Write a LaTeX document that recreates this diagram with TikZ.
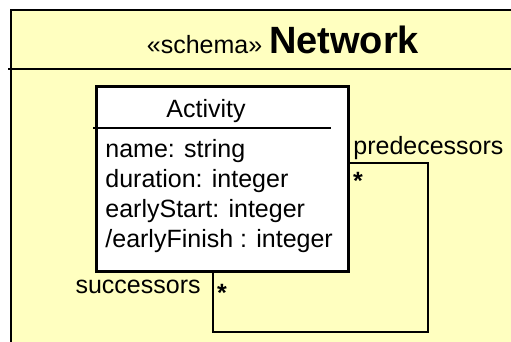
\documentclass[tikz,border=0pt]{standalone}
\usepackage{fontspec}
\setmainfont{Liberation Sans}
\usetikzlibrary{positioning}
\definecolor{Crema}{HTML}{FFFFC0}

\begin{document}
\begin{tikzpicture}[x=1pt,y=-1pt,line width=2.8pt,
  every node/.style={inner sep=0pt,font=\fontsize{25}{30}\selectfont},
  attr/.style={anchor=base west},
  mult/.style={anchor=base,font=\fontsize{25}{30}\selectfont\bfseries}]
\useasboundingbox (0,0) rectangle (511,341);
\clip (0,0) rectangle (511,341);
% package frame
\draw[fill=Crema] (11,10) rectangle (530,360);
\draw (8,69) -- (530,69);
\node[anchor=base] (title) at (283,53) {«schema» {\fontsize{38}{40}\selectfont\bfseries Network}};
% class Activity
\node[draw,fill=white,anchor=north west,minimum width=252pt,minimum height=185pt] (activity) at (95,85) {};
\draw (93,128) -- (331,128);
\node[anchor=base] (cname) at (206,117) {Activity};
\node[attr] (a1) at (104,157) {name: string};
\node[attr] (a2) at (104,187) {duration: integer};
\node[attr] (a3) at (104,217) {earlyStart: integer};
\node[attr] (a4) at (104,247) {/earlyFinish : integer};
% self association
\coordinate (selfA) at (428,163);
\coordinate (selfB) at (213,332);
\draw (activity.east |- selfA) -- (selfA) |- (selfB) -- (selfB |- activity.south);
\node[anchor=base west] (pred) at (352,154) {predecessors};
\node[mult] (predm) at (358,189) {*};
\node[anchor=base east] (succ) at (202,293) {successors};
\node[mult] (succm) at (222,301) {*};
\end{tikzpicture}
\end{document}
